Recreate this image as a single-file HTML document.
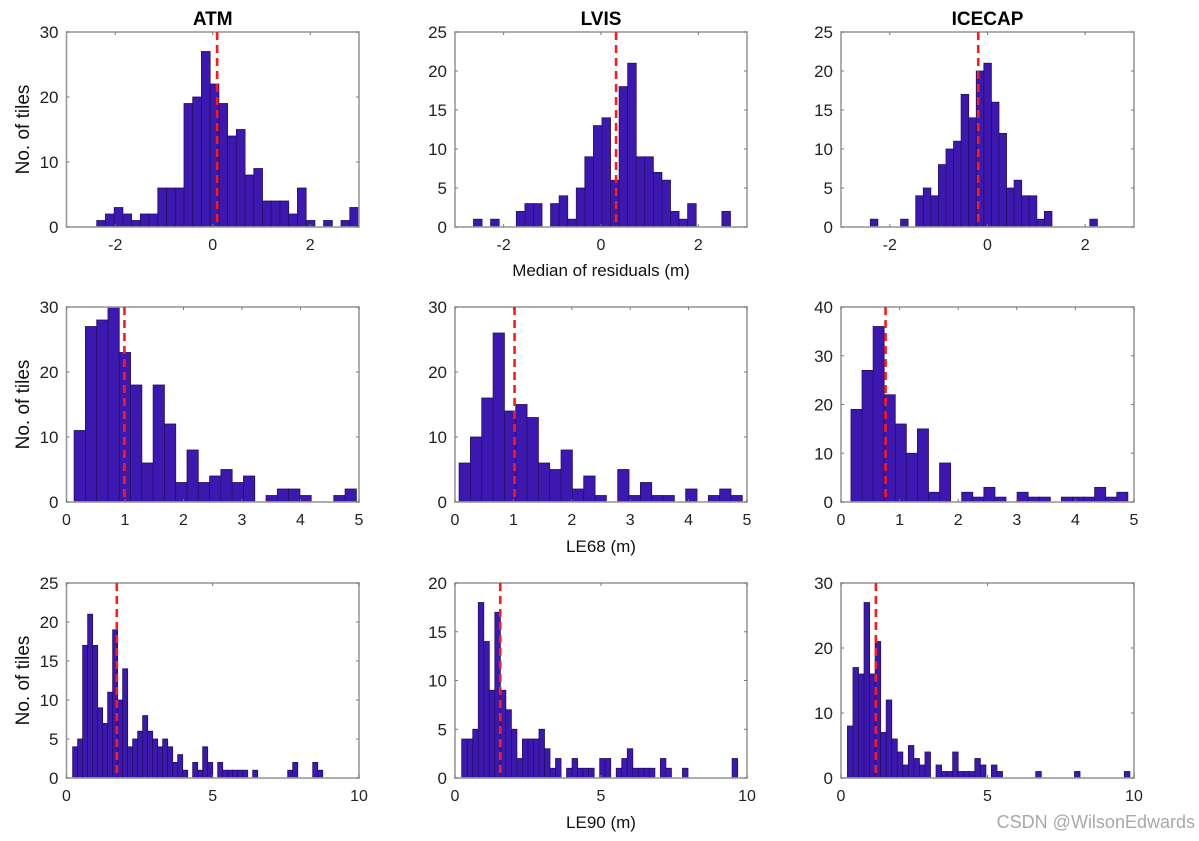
<!DOCTYPE html>
<html><head><meta charset="utf-8">
<style>
body{margin:0;background:#fff;}
svg{display:block;font-family:"Liberation Sans",Arial,sans-serif;}
</style></head>
<body>
<svg id="fig" width="1199" height="841" viewBox="0 0 1199 841" xmlns="http://www.w3.org/2000/svg"></svg>
<script>
// ---- data: counts per panel ----
const atmMedianCounts = [1,2,3,2,1,2,2,6,6,6,19,20,27,22,19,14,15,8,9,4,4,4,2,6,1,0,1,0,1,3];
const lvisMedianCounts = [1,0,1,0,0,2,3,3,0,3,4,1,5,9,13,14,6,18,21,9,9,7,6,2,1,3,0,0,0,2];
const icecapMedianCounts = [1,0,0,0,1,0,4,5,4,8,10,11,17,14,20,21,16,12,5,6,4,4,1,2,0,0,0,0,0,1];
const atmLE68Counts = [11,27,28,30,23,18,6,18,12,3,8,3,4,5,3,4,0,1,2,2,1,0,0,1,2];
const lvisLE68Counts = [6,10,16,26,14,15,13,6,5,8,2,4,1,0,5,1,3,1,1,0,2,0,1,2,1];
const icecapLE68Counts = [19,27,36,22,16,10,15,2,8,0,2,1,3,1,0,2,1,1,0,1,1,1,3,1,2];
const atmLE90Counts = [4,5,17,21,17,9,7,11,19,10,14,4,5,6,8,6,5,4,5,4,2,3,1,0,2,1,4,2,0,2,1,1,1,1,1,0,1,0,0,0,0,0,0,1,2,0,0,0,2,1];
const lvisLE90Counts = [4,4,5,18,14,9,17,9,7,5,2,4,4,4,5,3,1,2,0,1,2,1,1,1,0,2,2,0,1,2,3,1,1,1,1,0,2,1,0,0,1,0,0,0,0,0,0,0,0,2];
const icecapLE90Counts = [8,17,16,27,16,21,7,12,6,4,2,5,3,2,4,0,2,1,1,4,1,1,1,3,2,0,2,1,0,0,0,0,0,0,1,0,0,0,0,0,0,1,0,0,0,0,0,0,0,0,1];
// bin start and width (data units)
const binStarts = [-2.38,-2.62,-2.40, 0.13,0.07,0.17, 0.21,0.23,0.22];
const binWidths = [0.179,0.176,0.155, 0.193,0.194,0.189, 0.171,0.189,0.189];
// dashed reference (median) values
const refValues = [0.09,0.31,-0.19, 0.99,1.02,0.76, 1.72,1.55,1.19];
// axis limits and ticks
const xLimits = [[-3,3],[-3,3],[-3,3],[0,5],[0,5],[0,5],[0,10],[0,10],[0,10]];
const xTicks = [[-2,0,2],[-2,0,2],[-2,0,2],[0,1,2,3,4,5],[0,1,2,3,4,5],[0,1,2,3,4,5],[0,5,10],[0,5,10],[0,5,10]];
const yMax = [30,25,25,30,30,40,25,20,30];
const yTicks = [[0,10,20,30],[0,5,10,15,20,25],[0,5,10,15,20,25],[0,10,20,30],[0,10,20,30],[0,10,20,30,40],[0,5,10,15,20,25],[0,5,10,15,20],[0,10,20,30]];
const columnTitles = ["ATM","LVIS","ICECAP"];
const rowXLabels = ["Median of residuals (m)","LE68 (m)","LE90 (m)"];
const panelNames = ["atm-median","lvis-median","icecap-median","atm-le68","lvis-le68","icecap-le68","atm-le90","lvis-le90","icecap-le90"];
const allCounts = [atmMedianCounts,lvisMedianCounts,icecapMedianCounts,atmLE68Counts,lvisLE68Counts,icecapLE68Counts,atmLE90Counts,lvisLE90Counts,icecapLE90Counts];

// ---- layout ----
const colX = [[66.5,359],[455,747],[841,1134]];
const rowY = [[32,227],[307,502],[583,778]];
const NS = "http://www.w3.org/2000/svg";
const svg = document.getElementById('fig');
function mk(tag, attrs, parent){
  const e = document.createElementNS(NS, tag);
  for (const k in attrs) e.setAttribute(k, attrs[k]);
  (parent||svg).appendChild(e);
  return e;
}
function txt(str, attrs, parent){ const t = mk('text', attrs, parent); t.textContent = str; return t; }

for (let p = 0; p < 9; p++) {
  const r = Math.floor(p/3), c = p%3;
  const [x0,x1] = colX[c], [y0,y1] = rowY[r];
  const [xa,xb] = xLimits[p];
  const sx = v => x0 + (v - xa)/(xb - xa)*(x1 - x0);
  const sy = v => y1 - v/yMax[p]*(y1 - y0);
  const g = mk('g', {});
  
  
  mk('rect', {x:x0, y:y0, width:x1-x0, height:y1-y0, fill:'#fff'}, g);
  const counts = allCounts[p];
  for (let i = 0; i < counts.length; i++) {
    if (!counts[i]) continue;
    const a = binStarts[p] + i*binWidths[p], b = a + binWidths[p];
    const bar = mk('rect', {x:sx(a), y:sy(counts[i]), width:sx(b)-sx(a), height:sy(0)-sy(counts[i]), fill:'#3d18b0', stroke:'#241060', 'stroke-width':0.8}, g);
    
    
  }
  const fr = mk('rect', {x:x0, y:y0, width:x1-x0, height:y1-y0, fill:'none', stroke:'#9a9a9a', 'stroke-width':1.6}, g);
  
  
  xTicks[p].forEach(v => {
    const X = sx(v);
    mk('line', {x1:X, x2:X, y1:y1, y2:y1-3, stroke:'#777', 'stroke-width':1}, g);
    mk('line', {x1:X, x2:X, y1:y0, y2:y0+3, stroke:'#777', 'stroke-width':1}, g);
    const t = txt(String(v), {x:X, y:y1+23, 'text-anchor':'middle', 'font-size':16, fill:'#222'}, g);
    
    
  });
  yTicks[p].forEach(v => {
    const Y = sy(v);
    mk('line', {x1:x0, x2:x0+3, y1:Y, y2:Y, stroke:'#777', 'stroke-width':1}, g);
    mk('line', {x1:x1, x2:x1-3, y1:Y, y2:Y, stroke:'#777', 'stroke-width':1}, g);
    const t = txt(String(v), {x:x0-8, y:Y+6, 'text-anchor':'end', 'font-size':17, fill:'#222'}, g);
    
    
  });
  const rl = mk('line', {x1:sx(refValues[p]), x2:sx(refValues[p]), y1:y0, y2:y1, stroke:'#ff1a1a', 'stroke-width':2.6, 'stroke-dasharray':'8,5'}, g);
  
  
}
for (let c = 0; c < 3; c++) {
  const t = txt(columnTitles[c], {x:(colX[c][0]+colX[c][1])/2, y:25, 'text-anchor':'middle', 'font-size':19, 'font-weight':'bold', fill:'#000'});
  
  
}
const xLabelY = [276, 552, 828];
for (let r = 0; r < 3; r++) {
  const t = txt(rowXLabels[r], {x:(colX[1][0]+colX[1][1])/2, y:xLabelY[r], 'text-anchor':'middle', 'font-size':17, fill:'#111'});
  
  
  const cy = (rowY[r][0]+rowY[r][1])/2;
  const yl = txt('No. of tiles', {x:0, y:0, transform:'translate(29,'+cy+') rotate(-90)', 'text-anchor':'middle', 'font-size':19, fill:'#111'});
  
  
}
const wm = txt('CSDN @WilsonEdwards', {x:1195, y:828, 'text-anchor':'end', 'font-size':18, fill:'#a8a8a8'});


</script>
</body></html>
